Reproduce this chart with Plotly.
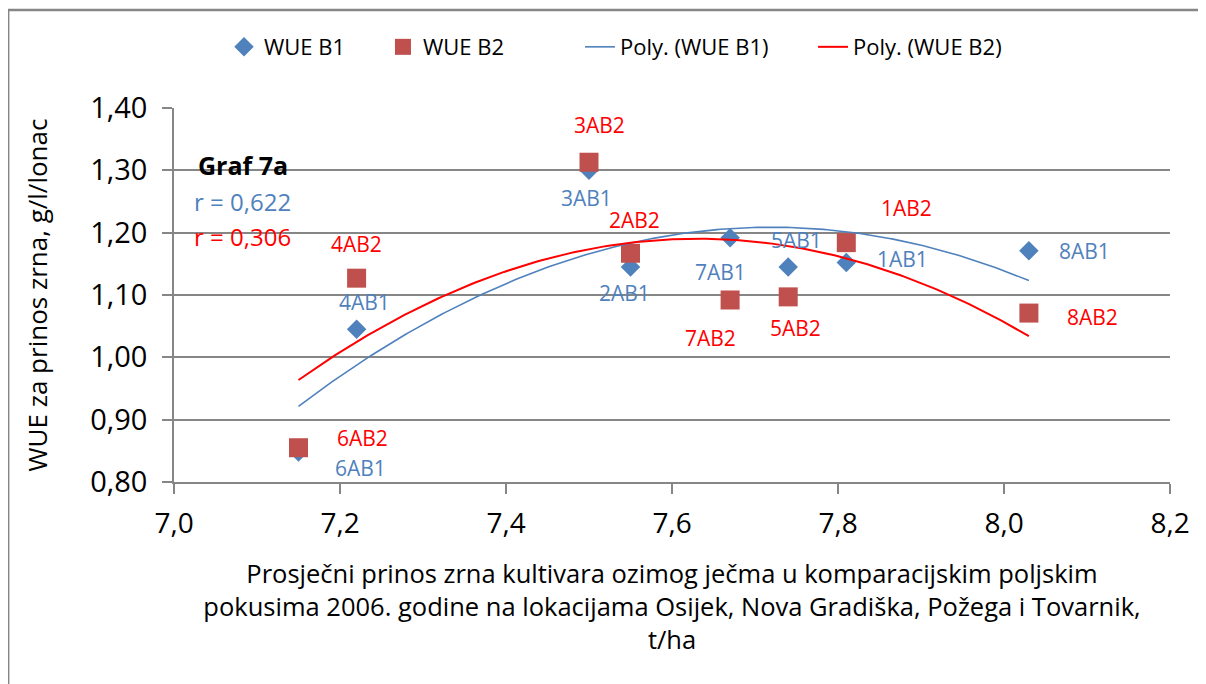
import numpy as np
import plotly.graph_objects as go

# Data
yield_x = [7.81, 7.55, 7.50, 7.22, 7.74, 7.15, 7.67, 8.03]
wue_b1 = [1.152, 1.145, 1.300, 1.045, 1.145, 0.848, 1.192, 1.171]
wue_b2 = [1.184, 1.167, 1.313, 1.127, 1.097, 0.855, 1.092, 1.071]
labels_b1 = ["1AB1", "2AB1", "3AB1", "4AB1", "5AB1", "6AB1", "7AB1", "8AB1"]
labels_b2 = ["1AB2", "2AB2", "3AB2", "4AB2", "5AB2", "6AB2", "7AB2", "8AB2"]
# label pixel offsets (dx, dy) relative to points (dy up positive)
off_b1 = [(56, 4), (-6, -26), (-3, -28), (8, 27), (8, 27), (62, -16), (-10, -34), (56, 0)]
off_b2 = [(60, 35), (4, 33), (10, 37), (0, 34), (7, -31), (64, 10), (-20, -38), (64, -4)]

x_ticks = [7.0, 7.2, 7.4, 7.6, 7.8, 8.0, 8.2]
y_ticks = [0.80, 0.90, 1.00, 1.10, 1.20, 1.30, 1.40]

BLUE = "#4F81BD"
RED_M = "#C0504D"
RED = "#FF0000"
GRID = "#868686"
FONT = "Open Sans"

# polynomial (order 2) trendlines
xs = np.linspace(min(yield_x), max(yield_x), 200)
p1 = np.polyfit(yield_x, wue_b1, 2)
p2 = np.polyfit(yield_x, wue_b2, 2)

fig = go.Figure()
fig.add_trace(go.Scatter(x=yield_x, y=wue_b1, mode="markers", name="WUE B1", legend="legend",
                         marker=dict(symbol="diamond", size=15, color=BLUE)))
fig.add_trace(go.Scatter(x=yield_x, y=wue_b2, mode="markers", name="WUE B2", legend="legend2",
                         marker=dict(symbol="square", size=19, color=RED_M)))
fig.add_trace(go.Scatter(x=xs, y=np.polyval(p1, xs), mode="lines", name="Poly. (WUE B1)",
                         legend="legend3", line=dict(color=BLUE, width=1.6)))
fig.add_trace(go.Scatter(x=xs, y=np.polyval(p2, xs), mode="lines", name="Poly. (WUE B2)",
                         legend="legend4", line=dict(color=RED, width=2)))

ann = []
for x, y, t, (dx, dy) in zip(yield_x, wue_b1, labels_b1, off_b1):
    ann.append(dict(x=x, y=y, xref="x", yref="y", text=t, showarrow=False,
                    xshift=dx, yshift=dy, font=dict(family=FONT, size=21, color=BLUE)))
for x, y, t, (dx, dy) in zip(yield_x, wue_b2, labels_b2, off_b2):
    ann.append(dict(x=x, y=y, xref="x", yref="y", text=t, showarrow=False,
                    xshift=dx, yshift=dy, font=dict(family=FONT, size=21, color=RED)))

ann.append(dict(x=0.022, y=0.898, xref="paper", yref="paper", text="<b>Graf 7a</b>",
                showarrow=False, xanchor="left", font=dict(family=FONT, size=25, color="black")))
ann.append(dict(x=0.018, y=0.800, xref="paper", yref="paper", text="r = 0,622",
                showarrow=False, xanchor="left", font=dict(family=FONT, size=24, color=BLUE)))
ann.append(dict(x=0.018, y=0.706, xref="paper", yref="paper", text="r = 0,306",
                showarrow=False, xanchor="left", font=dict(family=FONT, size=24, color=RED)))

leg_common = dict(orientation="h", y=1.163, yanchor="middle", xanchor="left",
                  font=dict(family=FONT, size=22, color="black"), bgcolor="rgba(0,0,0,0)",
                  itemwidth=30)

fig.update_layout(
    width=1198, height=676,
    margin=dict(l=166, r=36, t=100, b=202),
    paper_bgcolor="white", plot_bgcolor="white",
    separators=",.",
    font=dict(family=FONT, color="black"),
    showlegend=True,
    legend=dict(x=0.0502, **leg_common),
    legend2=dict(x=0.2098, **leg_common),
    legend3=dict(x=0.4076, **leg_common),
    legend4=dict(x=0.6416, **leg_common),
    annotations=ann,
    shapes=[
        dict(type="line", xref="paper", yref="paper", x0=-0.167, x1=1.1, y0=1.262, y1=1.262,
             line=dict(color=GRID, width=2.5)),
        dict(type="line", xref="paper", yref="paper", x0=-0.166, x1=-0.166, y0=1.262, y1=-0.6,
             line=dict(color=GRID, width=1.5)),
    ],
)
fig.update_xaxes(range=[7.0, 8.2], tickvals=x_ticks, tickformat=".1f",
                 showgrid=False, zeroline=False, showline=True, linecolor=GRID, linewidth=1.5,
                 ticks="outside", ticklen=10, tickcolor=GRID, tickwidth=1.5, ticklabelstandoff=6,
                 tickfont=dict(family=FONT, size=28, color="black"),
                 title=dict(text="Prosječni prinos zrna kultivara ozimog ječma u komparacijskim poljskim<br>"
                                 "pokusima 2006. godine na lokacijama Osijek, Nova Gradiška, Požega i Tovarnik,<br>t/ha",
                            font=dict(family=FONT, size=25.5, color="black"), standoff=25))
fig.update_yaxes(range=[0.80, 1.40], tickvals=y_ticks, tickformat=".2f",
                 showgrid=True, gridcolor=GRID, gridwidth=1.5, zeroline=False,
                 showline=True, linecolor=GRID, linewidth=1.5,
                 ticks="outside", ticklen=10, tickcolor=GRID, tickwidth=1.5, ticklabelstandoff=9,
                 tickfont=dict(family=FONT, size=29, color="black"),
                 title=dict(text="WUE za prinos zrna, g/l/lonac",
                            font=dict(family=FONT, size=26, color="black"), standoff=35))

fig.write_html("out.html")
